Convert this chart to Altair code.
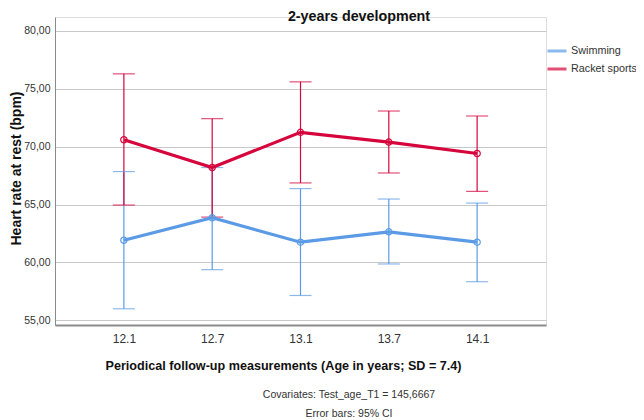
import altair as alt
import pandas as pd

ages = ["12.1", "12.7", "13.1", "13.7", "14.1"]
groups = ["Swimming", "Racket sports"]
swim_mean = [61.92, 63.86, 61.75, 62.65, 61.75]
swim_lo = [56.00, 59.38, 57.15, 59.87, 58.34]
swim_hi = [67.85, 68.20, 66.38, 65.48, 65.13]
racket_mean = [70.60, 68.20, 71.24, 70.40, 69.41]
racket_lo = [64.96, 63.92, 66.87, 67.73, 66.14]
racket_hi = [76.29, 72.42, 75.60, 73.08, 72.65]
y_ticks = [55, 60, 65, 70, 75, 80]
colors = ["#5B9BE6", "#D6063D"]
chart_title = "2-years development"
notes_text = ["Covariates: Test_age_T1 = 145,6667", "Error bars: 95% CI"]

rows = []
for g, m, lo, hi in [(groups[0], swim_mean, swim_lo, swim_hi),
                     (groups[1], racket_mean, racket_lo, racket_hi)]:
    for a, mv, l, h in zip(ages, m, lo, hi):
        rows.append({"age": a, "group": g, "mean": mv, "lo": l, "hi": h})
df = pd.DataFrame(rows)

FONT = "Liberation Sans"

x = alt.X("age:N", sort=ages, scale=alt.Scale(type="point", padding=0.78),
          axis=alt.Axis(title="Periodical follow-up measurements (Age in years; SD = 7.4)",
                        labelAngle=0, ticks=False, labelPadding=8, labelFontSize=12,
                        labelColor="#333333", labelFont=FONT,
                        domainColor="#8a8a8a", domainWidth=2,
                        titleFont=FONT, titleFontSize=12.6, titleFontWeight="bold",
                        titleColor="#111111", titleX=228, titleY=44,
                        titleAlign="center", titleBaseline="alphabetic", grid=False))
yscale = alt.Scale(domain=[54.6, 81.2], nice=False, zero=False)
color = alt.Color("group:N", sort=groups,
                  scale=alt.Scale(domain=groups, range=colors),
                  legend=alt.Legend(title=None, orient="none", legendX=491, legendY=23,
                                    symbolType="stroke", symbolSize=361, symbolStrokeWidth=3,
                                    labelFont=FONT, labelFontSize=10.8, labelColor="#333333",
                                    labelOffset=3, rowPadding=1))

base = alt.Chart(df)

err = base.mark_rule(strokeWidth=1.2).encode(
    x=x,
    y=alt.Y("lo:Q", scale=yscale,
            axis=alt.Axis(values=y_ticks, title="Heart rate at rest (bpm)",
                          labelExpr="replace(format(datum.value, '.2f'), '.', ',')",
                          ticks=False, labelPadding=5, labelFontSize=10.5,
                          labelColor="#333333", labelFont=FONT,
                          domainColor="#8a8a8a", domainWidth=1,
                          gridColor="#c8c8c8", gridWidth=1.2,
                          titleFont=FONT, titleFontSize=14, titleFontWeight="bold",
                          titleColor="#111111", titleX=-39, titleY=151,
                          titleAlign="center", titleBaseline="middle")),
    y2="hi:Q",
    color=color,
)
cap_lo = base.mark_tick(size=22, thickness=1.2).encode(
    x=x, y=alt.Y("lo:Q", scale=yscale), color=color)
cap_hi = base.mark_tick(size=22, thickness=1.2).encode(
    x=x, y=alt.Y("hi:Q", scale=yscale), color=color)
line = base.mark_line(strokeWidth=3.2).encode(
    x=x, y=alt.Y("mean:Q", scale=yscale), color=color, detail="group:N")
pts = base.mark_point(size=40, filled=False, strokeWidth=1.2, opacity=1).encode(
    x=x, y=alt.Y("mean:Q", scale=yscale), color=color)

notes_df = pd.DataFrame({"t": notes_text, "yy": [381, 400]})
notes = alt.Chart(notes_df).mark_text(font=FONT, fontSize=10.5, color="#333333",
                                     align="center", baseline="alphabetic").encode(
    x=alt.value(294), y=alt.Y("yy:Q", scale=None, axis=None), text="t:N")

title_df = pd.DataFrame({"t": [chart_title]})
title = alt.Chart(title_df).mark_text(font=FONT, fontSize=14.3, fontWeight="bold",
                                     color="#111111", align="center",
                                     baseline="alphabetic").encode(
    x=alt.value(304), y=alt.value(3.5), text="t:N")

chart = alt.layer(err, cap_lo, cap_hi, line, pts, notes, title).properties(
    width=491, height=308,
    autosize=alt.AutoSizeParams(type="none"),
    padding={"left": 47, "top": 9, "right": 90, "bottom": 95},
).configure_view(stroke=None).configure(background="white")

chart.save("out.html", embed_options={"renderer": "svg", "actions": False})
